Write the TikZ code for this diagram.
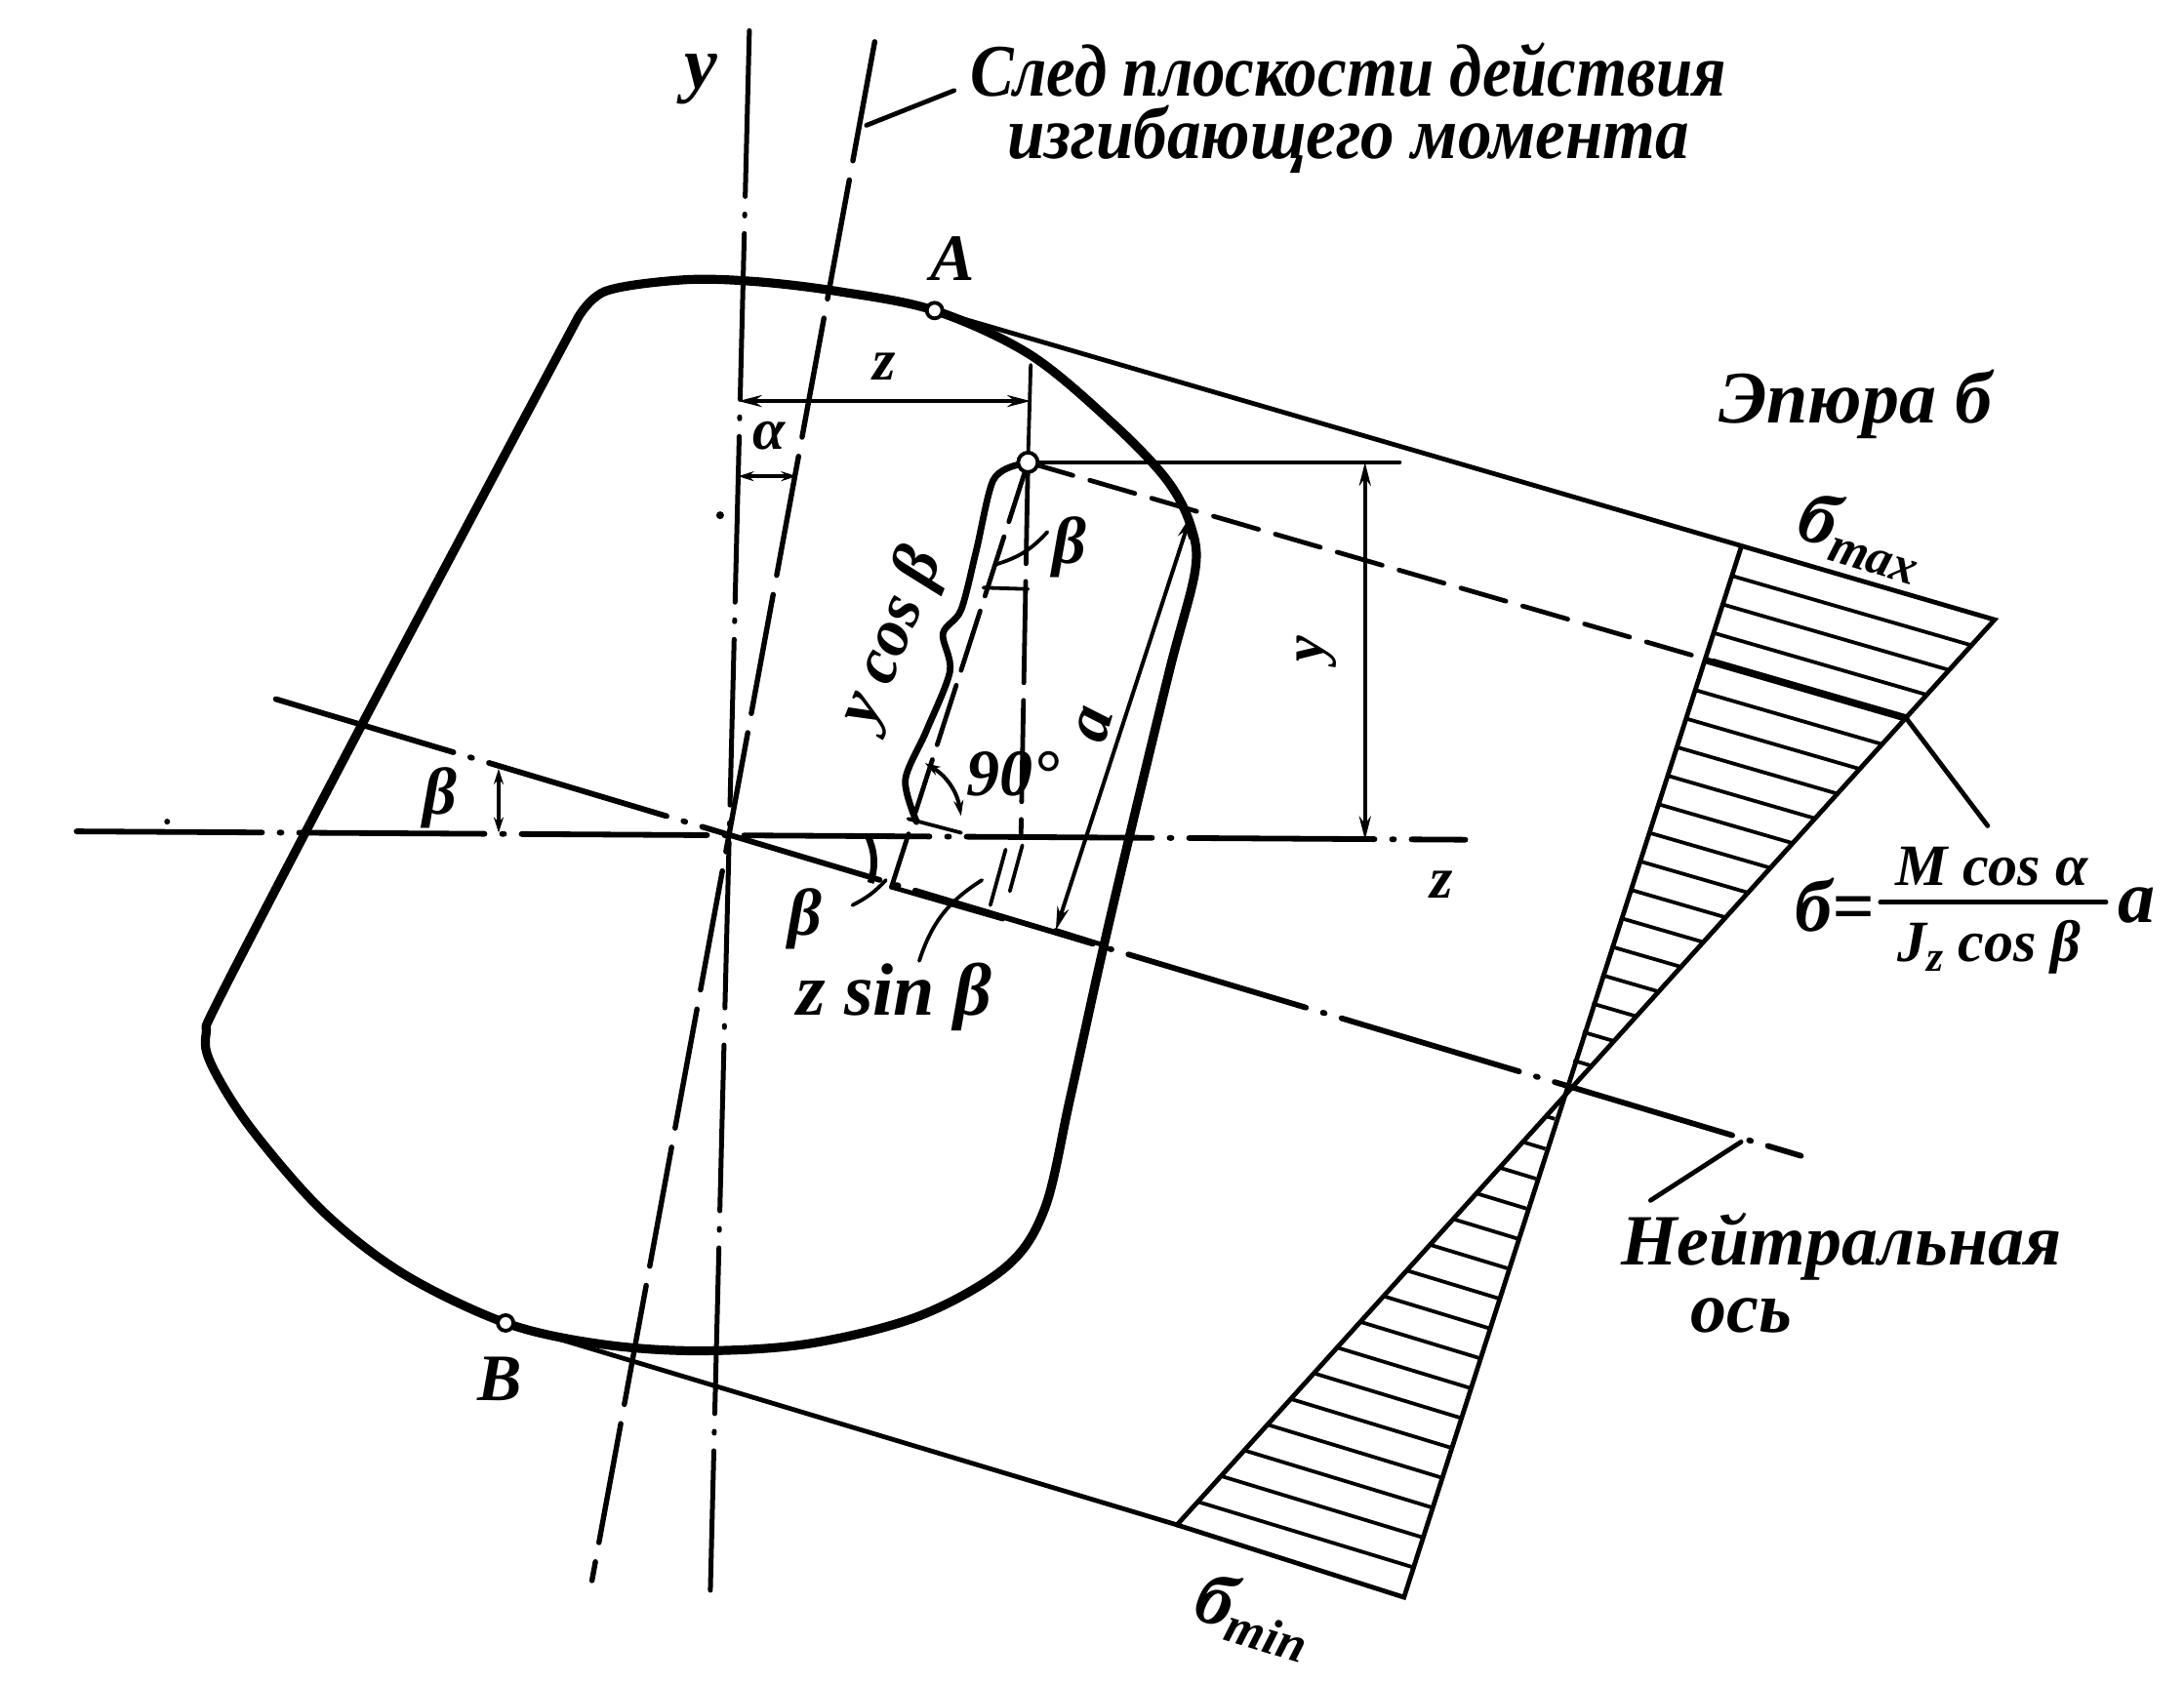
\documentclass[tikz,border=0pt]{standalone}
\usepackage{fontspec}
\usepackage{graphicx}
\setmainfont{Liberation Serif}
\usetikzlibrary{arrows.meta,calc}
\tikzset{
  outline/.style={line width=4.6pt,line join=round,line cap=round},
  medline/.style={line width=2.4pt,line cap=round},
  thinline/.style={line width=1.9pt,line cap=round},
  hatchline/.style={line width=1.9pt},
  axisA/.style={line width=2.5pt,line cap=round,dash pattern=on 85pt off 9pt on 1pt off 9pt},
  axisB/.style={line width=2.7pt,line cap=round,dash pattern=on 62pt off 10pt},
  axisC/.style={line width=2.9pt,line cap=round,dash pattern=on 95pt off 9pt on 1pt off 9pt},
  axisD/.style={line width=2.4pt,line cap=round,dash pattern=on 24pt off 9pt},
  dimarrow/.style={line width=2pt,{Stealth[length=12pt,width=6pt]}-{Stealth[length=12pt,width=6pt]}},
  smallarrow/.style={line width=2pt,{Stealth[length=8pt,width=5pt]}-{Stealth[length=8pt,width=5pt]}},
  pointmark/.style={circle,draw,fill=white,line width=1.9pt,inner sep=0pt},
  lbl/.style={inner sep=0pt,font=\fontsize{37}{37}\selectfont\bfseries\itshape},
  lblmid/.style={inner sep=0pt,font=\fontsize{34}{34}\selectfont\bfseries\itshape},
  lblsmall/.style={inner sep=0pt,font=\fontsize{30}{30}\selectfont\bfseries\itshape},
  lblbig/.style={inner sep=0pt,font=\fontsize{38}{38}\selectfont\bfseries\itshape},
}
\begin{document}
\begin{tikzpicture}[x=0.71365pt,y=-0.71365pt]
\useasboundingbox (0,0) rectangle (1568,1208.7);
% key points
\coordinate (yT) at (538,22); \coordinate (yB) at (510,1142);
\coordinate (tT) at (628,30); \coordinate (tB) at (425,1135);
\coordinate (zL) at (55,597); \coordinate (zR) at (1052,603);
\coordinate (nL) at (198,502); \coordinate (nR) at (1293,830);
\coordinate (P) at (738,332);
\coordinate (Q) at (1368,515);
\coordinate (dTL) at (1250,393); \coordinate (dTR) at (1432,445);
\coordinate (dBL) at (845,1095); \coordinate (dBR) at (1008,1147);
\coordinate (N) at (1123,782);
\coordinate (Apt) at (671,223); \coordinate (Bpt) at (363,950);
% section outline
\draw[outline] plot[smooth,tension=.55] coordinates {(415,228) (435,209) (490,201) (540,202) (600,209) (671,223) (740,255) (800,305) (838,345) (855,378) (858,410) (840,480) (811,600) (790,690) (768,790) (750,868) (722,910) (660,945) (580,965) (500,970) (430,965) (363,950) (290,915) (232,870) (180,810) (152,765) (148,742) (160,712) (260,520) (350,350) (415,228)};
% axes
\draw[axisA] (yT) -- (yB);
\draw[axisB] (tT) -- (tB);
\draw[axisC] (zL) -- (zR);
\draw[axisC] (nL) -- (nR);
% tangents and diagram
\draw[medline] (Apt) -- (dTR) -- (dBL) -- (Bpt);
\draw[medline] (dTL) -- (dBR) -- (dBL);
\foreach \t in {1,...,18} {
  \coordinate (h) at ($(dTL)!\t/19!(N)$);
  \draw[hatchline] (h) -- (intersection cs:first line={(h)--($(h)+(1000,290)$)},second line={(dTR)--(dBL)});
}
\foreach \t in {1,...,16} {
  \coordinate (h) at ($(N)!\t/17!(dBR)$);
  \draw[hatchline] (h) -- (intersection cs:first line={(h)--($(h)+(1000,305)$)},second line={(dTR)--(dBL)});
}
% line from P parallel to the neutral axis
\draw[axisD] (P) -- ($(P)!0.78!(Q)$);
\draw[line width=3pt] ($(P)!0.78!(Q)$) -- (Q);
% verticals from P
\draw[thinline] (P) -- (1005,332);
\coordinate (Pv) at (733,600);
\draw[axisD,dash pattern=on 52pt off 9pt] (P) -- (Pv);
\coordinate (Pn) at (640,637);
\draw[axisD,dash pattern=on 32pt off 8pt] (P) -- (Pn);
\draw[medline] (Pn) -- (720,660);
% y dimension
\coordinate (ydT) at (980,332); \coordinate (ydB) at (980,603);
\draw[dimarrow] (ydT) -- (ydB);
% z dimension
\coordinate (zdL) at (530,288); \coordinate (zdR) at (740,288);
\draw[dimarrow] (zdL) -- (zdR);
\draw[thinline] (740,262) -- (P);
% alpha
\coordinate (adL) at (530,342); \coordinate (adR) at (572,342);
\draw[smallarrow] (adL) -- (adR);
% a dimension
\coordinate (aT) at (855,370); \coordinate (aB) at (758,668);
\draw[dimarrow] (aT) -- (aB);
\draw[medline] (aB) -- (790,678);
% brace y cos beta
\draw[line width=3.4pt,line cap=round] plot[smooth,tension=.5] coordinates {(730,334) (713,345) (701,395) (690,438) (677,455) (682,482) (665,525) (650,560) (658,590)};
% 90 degree arrow
\coordinate (r1) at (664,548); \coordinate (r2) at (690,586);
\draw[smallarrow] (r1) to[bend left=25] (r2);
\draw[thinline] (652,588) -- (690,598);
% beta near top
\coordinate (b1) at (706,422); \coordinate (b2) at (738,423);
\draw[thinline] (b1) -- (b2);
\coordinate (b3) at (716,405); \coordinate (b4) at (752,382);
\draw[thinline] (b3) to[bend right=15] (b4);
% beta left
\coordinate (bl1) at (358,552); \coordinate (bl2) at (358,598);
\draw[smallarrow] (bl1) -- (bl2);
% beta lower
\coordinate (bm1) at (623,600); \coordinate (bm2) at (625,634);
\draw[line width=3.4pt] (bm1) to[bend left=20] (bm2);
\draw[thinline] (612,650) to[bend right=10] (636,632);
% z sin beta
\draw[thinline] (660,690) to[bend left=20] (705,632);
\draw[thinline] (722,610) -- (711,650);
\draw[thinline] (734,607) -- (725,640);
% leaders
\coordinate (lead1) at (622,90); \coordinate (lead1e) at (685,65);
\draw[medline] (lead1) -- (lead1e);
\coordinate (lead2e) at (1427,593);
\draw[medline] (Q) -- (lead2e);
\coordinate (lead3) at (1250,820); \coordinate (lead3e) at (1185,862);
\draw[medline] (lead3) -- (lead3e);
% points
\node[pointmark,minimum size=8pt] (pA) at (Apt) {};
\node[pointmark,minimum size=8pt] (pB) at (Bpt) {};
\node[pointmark,minimum size=10pt] (pP) at (P) {};
\fill (517,370) circle (2pt);
\fill (120,590) circle (1.5pt);
% labels
\node[lblbig] (ty) at (503,57) {y};
\node[lblbig] (tt1) at (968,50) {\scalebox{0.88}[1]{След плоскости действия}};
\node[lblbig] (tt2) at (968,100) {\scalebox{0.91}[1]{изгибающего момента}};
\node[lblmid] (tA) at (684,186) {A};
\node[lblmid] (tB2) at (359,990) {B};
\node[lblsmall] (tz) at (635,263) {z};
\node[lblsmall] (talpha) at (552,313) {α};
\node[lblbig] (tep) at (1332,290) {Эпюра б};
\node[lblbig,rotate=-17] (tmax) at (1336,385) {б\raisebox{-6pt}{\fontsize{26}{26}\selectfont max}};
\node[lblbig,rotate=-17] (tmin) at (900,1160) {б\raisebox{-6pt}{\fontsize{26}{26}\selectfont min}};
\node[lblsmall,rotate=90] (tyd) at (945,466) {y};
\node[lblmid,rotate=68] (tycos) at (641,458) {y cos β};
\node[lblmid] (tbeta1) at (768,393) {β};
\node[lblmid,rotate=73] (ta) at (786,520) {a};
\node[lblmid] (t90) at (727,556) {90°};
\node[lblmid] (tbeta2) at (316,573) {β};
\node[lblmid] (tbeta3) at (578,660) {β};
\node[lblbig] (tzs) at (642,716) {z sin β};
\node[lblsmall] (tzz) at (1035,635) {z};
\node[lblbig] (tsig) at (1317,650) {б=};
\node[lblsmall] (tnum) at (1430,622) {M cos α};
\coordinate (bar1) at (1350,648); \coordinate (bar2) at (1512,648);
\draw[medline] (bar1) -- (bar2);
\node[lblsmall] (tden) at (1428,680) {J\raisebox{-5pt}{\fontsize{22}{22}\selectfont z} cos β};
\node[lblbig] (ta2) at (1534,650) {a};
\node[lbl] (tn1) at (1322,895) {Нейтральная};
\node[lbl] (tn2) at (1250,945) {ось};
\end{tikzpicture}
\end{document}
